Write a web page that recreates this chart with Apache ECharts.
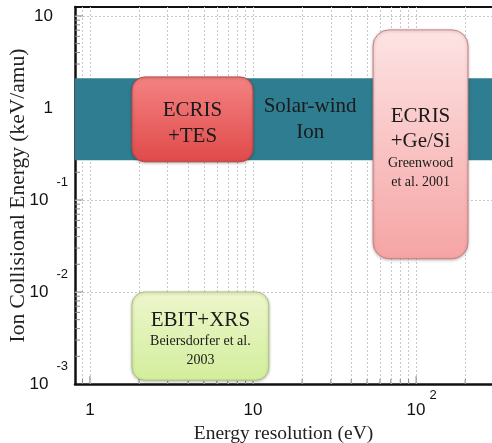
<!DOCTYPE html>
<html>
<head>
<meta charset="utf-8">
<script src="https://cdn.jsdelivr.net/npm/echarts@6/dist/echarts.min.js"></script>
<style>
  html, body { margin: 0; padding: 0; background: #fff; }
  #main { width: 492px; height: 443px; }
</style>
</head>
<body>
<div id="main"></div>
<script>
// regions of the plane (energy resolution in eV, collisional energy in keV/amu)
const regionNames = ['Solar-wind Ion', 'ECRIS+TES', 'ECRIS+Ge/Si', 'EBIT+XRS'];
const regionXFrom = [0.81, 1.81, 54.5, 1.81];
const regionXTo = [292, 10, 208, 12.5];
const regionYFrom = [0.27, 0.26, 0.023, 0.0011];
const regionYTo = [2.1, 2.17, 7.05, 0.01];
const regionLines = [
    ['Solar-wind', 'Ion'],
    ['ECRIS', '+TES'],
    ['ECRIS', '+Ge/Si', 'Greenwood', 'et al. 2001'],
    ['EBIT+XRS', 'Beiersdorfer et al.', '2003']
];
const xRange = [0.81, 292];
const yRange = [0.001, 12.5];

const serif = '"Liberation Serif", "DejaVu Serif", serif';
const sans = '"Liberation Sans", Arial, sans-serif';

// look of each region
const regionStyle = [
    { fill: '#2f7d91', stroke: null, r: 0, big: 2, bigLh: 26, smallLh: 19, dy: 0, textX: 22.4 },
    { fill: ['#f48382', '#e04a4a'], stroke: '#b94444', r: 13, big: 2, bigLh: 26, smallLh: 19, dy: 4 },
    { fill: ['#fde4e4', '#f6a4a4'], stroke: '#c98080', r: 16, big: 2, bigLh: 25, smallLh: 19, dy: 4 },
    { fill: ['#edf6cc', '#d3ee9c'], stroke: '#aec47a', r: 13, big: 1, bigLh: 24, smallLh: 19, dy: 3 }
];

// minor grid / tick positions 1..9 per decade
let xMinor = [], yMinor = [];
for (let e = -1; e <= 2; e++) {
    for (let m = 1; m <= 9; m++) {
        let v = m * Math.pow(10, e);
        if (v > xRange[0] && v < xRange[1]) xMinor.push(v);
    }
}
for (let e = -3; e <= 1; e++) {
    for (let m = 1; m <= 9; m++) {
        let v = m * Math.pow(10, e);
        if (v > yRange[0] && v < yRange[1]) yMinor.push(v);
    }
}

let myChart = echarts.init(document.getElementById('main'));

let regionData = regionNames.map(function (name, i) {
    return { name: name, value: [regionXFrom[i], regionXTo[i], regionYFrom[i], regionYTo[i]] };
});

myChart.setOption({
    animation: false,
    backgroundColor: '#fff',
    grid: { left: 75, right: 0, top: 7, bottom: 59, containLabel: false, outerBoundsMode: 'none' },
    xAxis: [{
        type: 'log',
        min: xRange[0],
        max: xRange[1],
        name: 'Energy resolution (eV)',
        nameLocation: 'middle',
        nameGap: 40,
        nameTextStyle: { fontFamily: serif, fontSize: 19.5, color: '#222' },
        axisLine: { lineStyle: { color: '#111', width: 2.5 } },
        axisTick: { show: false },
        splitLine: { show: false },
        axisLabel: {
            margin: 5,
            showMinLabel: false,
            showMaxLabel: false,
            formatter: function (v) {
                let e = Math.round(Math.log10(v));
                if (e === 0) return '{n|1}';
                if (e === 1) return '{n|10}';
                return '{pad2|}{n|10}{sup|' + e + '}';
            },
            rich: {
                n: { fontFamily: sans, fontSize: 17, color: '#111', lineHeight: 30, verticalAlign: 'bottom' },
                sup: { fontFamily: sans, fontSize: 13, color: '#111', lineHeight: 30, verticalAlign: 'top', padding: [0, 0, 0, 4] },
                pad2: { width: 11 }
            }
        }
    }, {
        type: 'log',
        position: 'top',
        min: xRange[0],
        max: xRange[1],
        axisLine: { lineStyle: { color: '#111', width: 2 } },
        axisTick: { show: false },
        axisLabel: { show: false },
        splitLine: { show: false }
    }],
    yAxis: {
        type: 'log',
        min: yRange[0],
        max: yRange[1],
        name: 'Ion Collisional Energy (keV/amu)',
        nameLocation: 'middle',
        nameGap: 46,
        nameMoveOverlap: false,
        nameTextStyle: { fontFamily: serif, fontSize: 21.5, color: '#222' },
        axisLine: { show: true, lineStyle: { color: '#111', width: 2.5 } },
        axisTick: { show: false },
        splitLine: { show: false },
        axisLabel: {
            margin: 7,
            showMaxLabel: false,
            formatter: function (v) {
                let e = Math.round(Math.log10(v));
                if (e === 0) return '{n|1}{pad|}';
                if (e === 1) return '{n|10}{pad|}';
                return '{n|10}{sup|' + e + '}';
            },
            rich: {
                n: { fontFamily: sans, fontSize: 17, color: '#111', lineHeight: 48, verticalAlign: 'middle' },
                sup: { fontFamily: sans, fontSize: 13, color: '#111', lineHeight: 48, verticalAlign: 'top', padding: [0, 0, 0, 8] },
                pad: { width: 15 }
            }
        }
    },
    series: [{
        // dotted grid
        type: 'line',
        data: [],
        silent: true,
        z: 1,
        markLine: {
            symbol: 'none',
            silent: true,
            z: 1,
            label: { show: false },
            lineStyle: { color: '#c8c8c8', type: [2, 2], width: 1 },
            data: xMinor.map(function (v) { return { xAxis: v }; })
                .concat([0.1, 0.01, 10].map(function (v) { return { yAxis: v }; }))
        }
    }, {
        // minor ticks on the left and bottom axes
        type: 'custom',
        silent: true,
        z: 1,
        data: [0],
        renderItem: function (params, api) {
            let children = [];
            yMinor.forEach(function (v) {
                let p = api.coord([xRange[0], v]);
                let len = (Math.abs(Math.log10(v) - Math.round(Math.log10(v))) < 1e-6) ? 8 : 5;
                children.push({ type: 'line', shape: { x1: p[0], y1: p[1], x2: p[0] + len, y2: p[1] }, style: { stroke: '#888', lineWidth: 1 } });
            });
            xMinor.forEach(function (v) {
                let p = api.coord([v, yRange[0]]);
                let len = (Math.abs(Math.log10(v) - Math.round(Math.log10(v))) < 1e-6) ? 8 : 5;
                children.push({ type: 'line', shape: { x1: p[0], y1: p[1], x2: p[0], y2: p[1] - len }, style: { stroke: '#888', lineWidth: 1 } });
            });
            return { type: 'group', children: children };
        }
    }, {
        type: 'custom',
        clip: true,
        z: 10,
        data: regionData,
        renderItem: function (params, api) {
            let i = params.dataIndex;
            let st = regionStyle[i];
            let p0 = api.coord([api.value(0), api.value(3)]);
            let p1 = api.coord([api.value(1), api.value(2)]);
            let fill = Array.isArray(st.fill)
                ? new echarts.graphic.LinearGradient(0, 0, 0, 1, [
                    { offset: 0, color: st.fill[0] },
                    { offset: 1, color: st.fill[1] }
                ])
                : st.fill;
            let cx = st.textX ? api.coord([st.textX, 1])[0] : (p0[0] + p1[0]) / 2;
            let cy = (p0[1] + p1[1]) / 2 + st.dy;
            let txt = regionLines[i].map(function (s, k) {
                return (k < st.big ? '{b|' : '{s|') + s + '}';
            }).join('\n');
            return {
                type: 'group',
                children: [{
                    type: 'rect',
                    shape: { x: p0[0], y: p0[1], width: p1[0] - p0[0], height: p1[1] - p0[1], r: st.r },
                    style: {
                        fill: fill,
                        stroke: st.stroke || null,
                        lineWidth: st.stroke ? 1 : 0,
                        shadowBlur: st.stroke ? 3 : 0,
                        shadowColor: 'rgba(0,0,0,0.25)',
                        shadowOffsetY: st.stroke ? 1 : 0
                    }
                }, {
                    type: 'text',
                    style: {
                        x: cx,
                        y: cy,
                        text: txt,
                        align: 'center',
                        verticalAlign: 'middle',
                        rich: {
                            b: { fontFamily: serif, fontSize: 21, lineHeight: st.bigLh, fill: '#1a1a1a', align: 'center' },
                            s: { fontFamily: serif, fontSize: 14, lineHeight: st.smallLh, fill: '#1a1a1a', align: 'center' }
                        }
                    }
                }]
            };
        }
    }]
});
</script>
</body>
</html>
